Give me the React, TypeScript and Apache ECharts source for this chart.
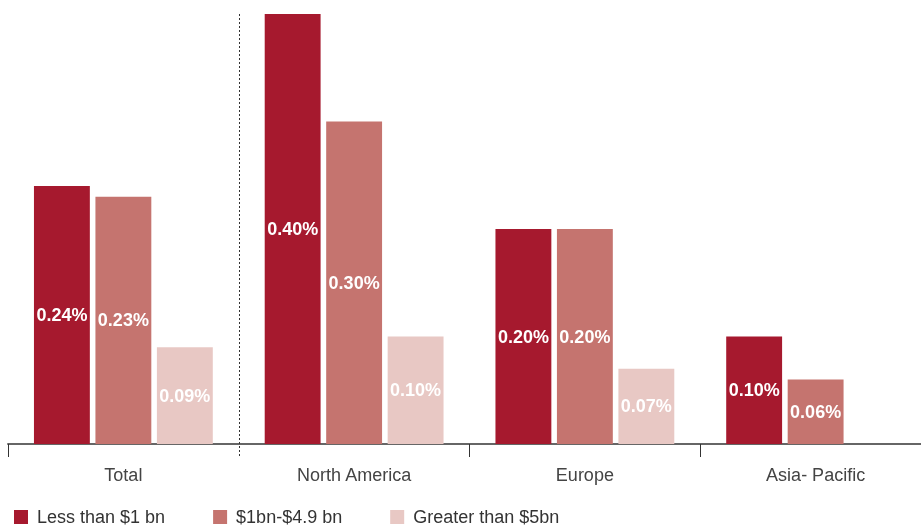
import React, { useEffect, useRef } from "react";
import * as echarts from "echarts";

const categories = ["Total", "North America", "Europe", "Asia- Pacific"];
const seriesNames = ["Less than $1 bn", "$1bn-$4.9 bn", "Greater than $5bn"];
const lessThan1bn = [0.24, 0.4, 0.2, 0.1];
const from1to49bn = [0.23, 0.3, 0.2, 0.06];
const greaterThan5bn: (number | null)[] = [0.09, 0.1, 0.07, null];
const colors = ["#A6192E", "#C5746F", "#E8C8C4"];

export default function App() {
  const ref = useRef<HTMLDivElement>(null);
  useEffect(() => {
    if (!ref.current) return;
    const chart = echarts.init(ref.current, undefined, { renderer: "svg" });
    const label = {
      show: true,
      position: "inside",
      color: "#ffffff",
      fontWeight: "bold",
      fontSize: 18,
      fontFamily: "Liberation Sans, Arial, sans-serif",
      formatter: (p: any) => (p.value == null ? "" : Number(p.value).toFixed(2) + "%"),
    };
    const dataSets = [lessThan1bn, from1to49bn, greaterThan5bn];
    chart.setOption({
      animation: false,
      grid: { left: 8, right: 9, top: 14, height: 430, containLabel: false },
      legend: {
        data: seriesNames,
        left: 9,
        top: 503,
        itemWidth: 14,
        itemHeight: 14,
        itemGap: 48,
        icon: "rect",
        textStyle: {
          fontSize: 18,
          color: "#333333",
          fontFamily: "Liberation Sans, Arial, sans-serif",
          padding: [0, 0, 0, 4],
        },
      },
      xAxis: {
        type: "category",
        data: categories,
        axisLine: { show: true, lineStyle: { color: "#666666", width: 2 } },
        axisTick: {
          show: true,
          length: 13,
          interval: (i: number) => i !== 1,
          lineStyle: { color: "#333333", width: 1 },
        },
        axisLabel: {
          fontSize: 18,
          color: "#444444",
          margin: 22,
          fontFamily: "Liberation Sans, Arial, sans-serif",
        },
        splitLine: { show: false },
      },
      yAxis: { type: "value", min: 0, max: 0.4, show: false, splitLine: { show: false } },
      series: seriesNames.map((name, i) => ({
        name,
        type: "bar",
        data: dataSets[i],
        barGap: "10%",
        barCategoryGap: "22.5%",
        itemStyle: { color: colors[i] },
        label,
      })),
    });
    // dotted separator between "Total" and "North America", placed via the axis scales
    const x0 = chart.convertToPixel({ xAxisIndex: 0 }, categories[0]) as number;
    const x1 = chart.convertToPixel({ xAxisIndex: 0 }, categories[1]) as number;
    const yTop = chart.convertToPixel({ yAxisIndex: 0 }, 0.4) as number;
    const yBase = chart.convertToPixel({ yAxisIndex: 0 }, 0) as number;
    const xs = Math.round((x0 + x1) / 2) + 0.5;
    chart.setOption({
      graphic: [
        {
          type: "line",
          shape: { x1: xs, y1: yTop, x2: xs, y2: yBase + 13 },
          style: { stroke: "#333333", lineWidth: 1, lineDash: [2, 2] },
          z: 10,
        },
      ],
    });
    return () => chart.dispose();
  }, []);
  return (
    <div
      style={{
        position: "fixed",
        left: 0,
        top: 0,
        width: 921,
        height: 528,
        overflow: "hidden",
      }}
    >
      <div ref={ref} style={{ width: 940, height: 528 }} />
    </div>
  );
}
